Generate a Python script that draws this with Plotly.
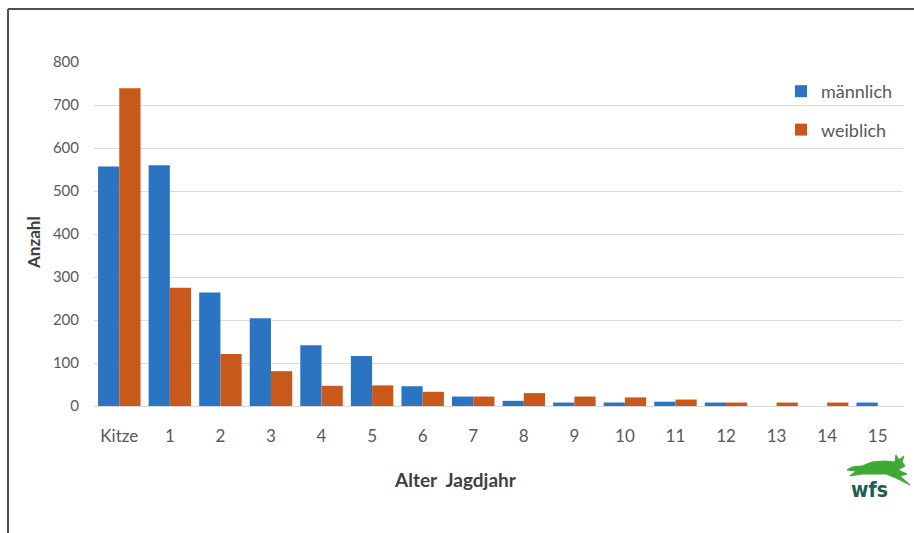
import plotly.graph_objects as go

categories = ["Kitze", "1", "2", "3", "4", "5", "6", "7", "8", "9", "10", "11", "12", "13", "14", "15"]
maennlich = [557, 560, 264, 204, 141, 116, 46, 22, 12, 8, 8, 10, 8, 0, 0, 8]
weiblich = [739, 275, 121, 81, 47, 48, 33, 22, 30, 22, 20, 15, 8, 8, 8, 0]
y_ticks = [0, 100, 200, 300, 400, 500, 600, 700, 800]

W, H = 914, 533
L, R, T, B = 94, 11, 62, 127
PW, PH = W - L - R, H - T - B

def px(x):
    return (x - L) / PW

def py(y):
    return (H - B - y) / PH

FONT = "Lato, Open Sans, sans-serif"

fig = go.Figure()
fig.add_trace(go.Bar(x=categories, y=maennlich, name="männlich",
                     marker=dict(color="#2B74C2", line=dict(width=0)), legendgroup="m"))
fig.add_trace(go.Bar(x=categories, y=weiblich, name="weiblich",
                     marker=dict(color="#C9591A", line=dict(width=0)), legendgroup="w"))

# hare logo (decorative)
hare = [(905, 466), (902, 462), (904, 456), (899, 460), (896, 455), (895, 462), (885, 461),
        (872, 462), (862, 466), (852, 467), (847, 470), (856, 471), (850, 476), (862, 474),
        (874, 474), (886, 474), (896, 478), (910, 485), (900, 476), (907, 474), (898, 470)]
path = "M " + " L ".join(f"{px(x):.4f},{py(y):.4f}" for x, y in hare) + " Z"

fig.update_layout(
    width=W, height=H,
    margin=dict(l=L, r=R, t=T, b=B),
    paper_bgcolor="white", plot_bgcolor="white",
    barmode="group", bargap=0.16, bargroupgap=0,
    font=dict(family=FONT, color="#595959", size=15),
    showlegend=True,
    legend=dict(x=px(781), y=py(73), xanchor="left", yanchor="top",
                bgcolor="rgba(0,0,0,0)", font=dict(size=18, color="#595959"),
                tracegroupgap=12, traceorder="grouped", itemwidth=30),
    xaxis=dict(showgrid=False, showline=False, ticks="", ticklabelstandoff=18,
               tickfont=dict(size=17, color="#595959")),
    yaxis=dict(range=[0, 800], tickvals=y_ticks, showgrid=True, gridcolor="#D9D9D9", gridwidth=1,
               zeroline=True, zerolinecolor="#D9D9D9", zerolinewidth=1, ticks="",
               ticklabelstandoff=14, tickfont=dict(size=15, color="#595959")),
    shapes=[
        dict(type="line", xref="paper", yref="paper", x0=px(8), x1=px(920), y0=py(9), y1=py(9),
             line=dict(color="#505050", width=2)),
        dict(type="line", xref="paper", yref="paper", x0=px(8), x1=px(8), y0=py(9), y1=py(540),
             line=dict(color="#505050", width=2)),
        dict(type="path", xref="paper", yref="paper", path=path,
             fillcolor="#3DAA35", line=dict(color="#3DAA35", width=1)),
    ],
    annotations=[
        dict(text="<b>Alter  Jagdjahr</b>", xref="paper", yref="paper", x=px(455), y=py(479),
             xanchor="center", yanchor="middle",
             showarrow=False, font=dict(size=19, color="#404040")),
        dict(text="<b>Anzahl</b>", xref="paper", yref="paper", x=px(33), y=py(243), textangle=-90,
             xanchor="center", yanchor="middle",
             showarrow=False, font=dict(size=17, color="#404040")),
        dict(text="<b>wfs</b>", xref="paper", yref="paper", x=px(869), y=py(490),
             xanchor="center", yanchor="middle",
             showarrow=False, font=dict(family="Liberation Sans Narrow, DejaVu Sans Condensed, sans-serif",
                                        size=21, color="#1E5E52")),
    ],
)

fig.write_html("out.html", config={"displayModeBar": False},
               post_script="document.body.style.margin='0';document.body.style.overflow='hidden';")
